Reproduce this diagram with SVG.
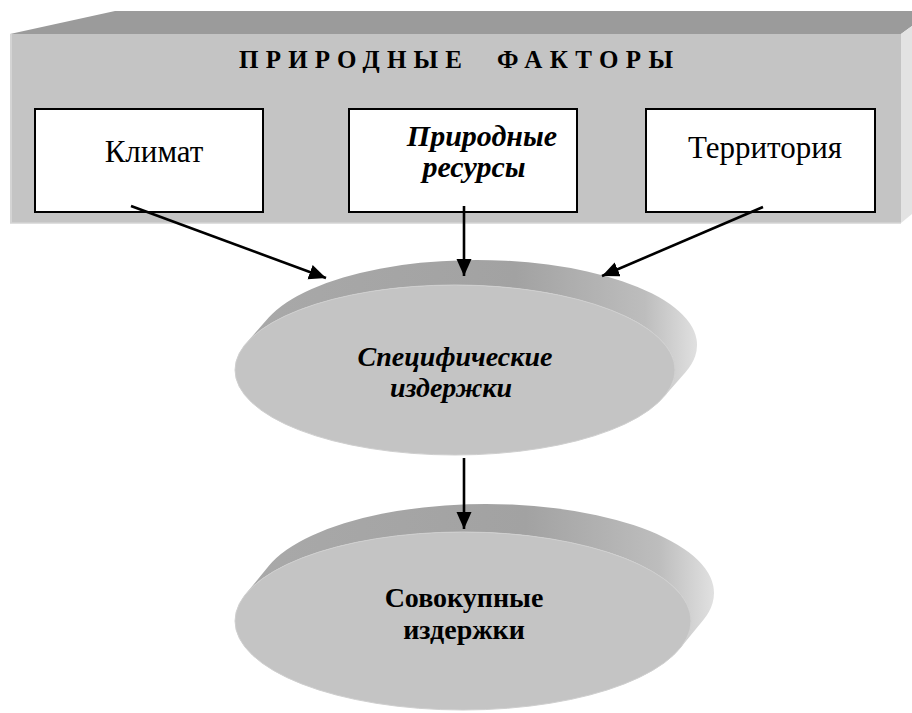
<svg xmlns="http://www.w3.org/2000/svg" width="912" height="713" viewBox="0 0 912 713">
<style>
.box{fill:#fff;stroke:#000;stroke-width:2}
.t{font-family:"Liberation Serif","DejaVu Serif","Times New Roman",serif;fill:#000}
.reg{font-size:31px}
.bi{font-size:30px;font-weight:bold;font-style:italic}
.title{font-size:25px;font-weight:bold}
.conn{stroke:#000;stroke-width:2.6;fill:none;marker-end:url(#ah)}
.front{fill:#c4c4c4;stroke:#cfcfcf;stroke-width:1}
</style>
<defs>
<marker id="ah" markerUnits="userSpaceOnUse" markerWidth="18" markerHeight="16" refX="17" refY="7.5" orient="auto">
<path d="M0,0 L17,7.5 L0,15 Z" fill="#000"/>
</marker>
<linearGradient id="side1" gradientUnits="userSpaceOnUse" x1="240" y1="0" x2="700" y2="0">
<stop offset="0" stop-color="#a9a9a9"/>
<stop offset="0.6" stop-color="#a2a2a2"/>
<stop offset="0.88" stop-color="#bdbdbd"/>
<stop offset="1" stop-color="#e2e2e2"/>
</linearGradient>
<linearGradient id="side2" gradientUnits="userSpaceOnUse" x1="240" y1="0" x2="716" y2="0">
<stop offset="0" stop-color="#a9a9a9"/>
<stop offset="0.6" stop-color="#a2a2a2"/>
<stop offset="0.88" stop-color="#bdbdbd"/>
<stop offset="1" stop-color="#e2e2e2"/>
</linearGradient>
</defs>

<g id="panel">
<polygon points="10,34 115,11 912,11 912,26 901,34" fill="#9b9b9b"/>
<polygon points="901,34 912,26 912,214 901,223" fill="#e3e3e3"/>
<rect x="10" y="34" width="891" height="189" fill="#c4c4c4"/>
<line x1="11" y1="34" x2="11" y2="223" stroke="#d4d4d4" stroke-width="2"/>
<line x1="10" y1="223" x2="901" y2="223" stroke="#d4d4d4" stroke-width="1.5"/>
<text class="t title" x="239" y="68" textLength="223" lengthAdjust="spacing">ПРИРОДНЫЕ</text>
<text class="t title" x="497" y="68" textLength="176" lengthAdjust="spacing">ФАКТОРЫ</text>
</g>

<g id="klimat">
<rect class="box" x="35" y="109" width="228" height="103"/>
<text class="t reg" x="154" y="162" text-anchor="middle">Климат</text>
</g>

<g id="resursy">
<rect class="box" x="349" y="109" width="228" height="103"/>
<text class="t bi" x="482" y="146" text-anchor="middle">Природные</text>
<text class="t bi" x="474" y="177" text-anchor="middle">ресурсы</text>
</g>

<g id="territoriya">
<rect class="box" x="646" y="109" width="229" height="103"/>
<text class="t reg" x="765" y="158" text-anchor="middle">Территория</text>
</g>

<g id="specific">
<path d="M246.7,342.6 L268.7,317.6 A220,85 0 0 1 685.3,372.4 L663.3,397.4 A220,85 0 0 0 246.7,342.6 Z" fill="url(#side1)"/>
<ellipse class="front" cx="455" cy="370" rx="220" ry="85"/>
<text class="t bi" x="455" y="366" text-anchor="middle" style="font-size:28px">Специфические</text>
<text class="t bi" x="451" y="397" text-anchor="middle" style="font-size:28px">издержки</text>
</g>

<g id="total">
<path d="M245.9,593.8 L268.9,565.8 A228,89 0 0 1 703.1,620.2 L680.1,648.2 A228,89 0 0 0 245.9,593.8 Z" fill="url(#side2)"/>
<ellipse class="front" cx="463" cy="621" rx="228" ry="89"/>
<text class="t" x="464" y="607" text-anchor="middle" style="font-size:28px;font-weight:bold">Совокупные</text>
<text class="t" x="464" y="639" text-anchor="middle" style="font-size:28px;font-weight:bold">издержки</text>
</g>

<g id="connectors">
<path class="conn" d="M131,206 L326,278"/>
<path class="conn" d="M464,206 L464,276"/>
<path class="conn" d="M763,207 L602,276"/>
<path class="conn" d="M464,458 L464,529"/>
</g>
</svg>
